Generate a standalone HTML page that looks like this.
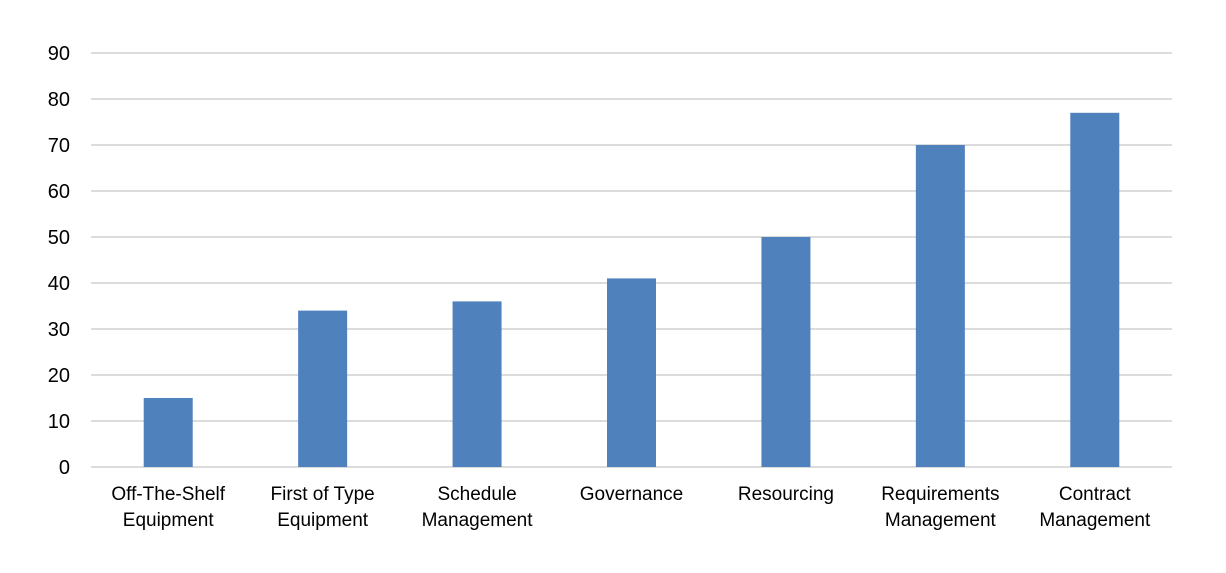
<!DOCTYPE html>
<html><head><meta charset="utf-8"><style>
html,body{margin:0;padding:0;background:#fff;}
svg{display:block;font-family:"Liberation Sans",Arial,sans-serif;}
</style></head><body>
<svg id="chart" width="1226" height="573" viewBox="0 0 1226 573">
<g id="grid"></g>
<g id="yticks"></g>
<g id="bars"></g>
<g id="xlabels"></g>
</svg>
<script>
const categories = [["Off-The-Shelf","Equipment"],["First of Type","Equipment"],["Schedule","Management"],["Governance"],["Resourcing"],["Requirements","Management"],["Contract","Management"]];
const values = [15,34,36,41,50,70,77];
const yTicks = [0,10,20,30,40,50,60,70,80,90];
const NS="http://www.w3.org/2000/svg";
const left=91,right=1172,y0=467,yTop=53,yMax=90;
const y=v=>y0-(y0-yTop)*v/yMax;
const band=(right-left)/categories.length;
const xc=i=>left+band*(i+0.5);
const bw=49;
function mk(t,a,p){const e=document.createElementNS(NS,t);for(const k in a)e.setAttribute(k,a[k]);p.appendChild(e);return e;}
const grid=document.getElementById('grid'),yt=document.getElementById('yticks'),bars=document.getElementById('bars'),xl=document.getElementById('xlabels');
yTicks.forEach(v=>{
  const l=mk('line',{x1:left,x2:right,y1:y(v),y2:y(v),stroke:'#d0d0d0','stroke-width':1.5},grid);
  
  
  const t=mk('text',{x:70,y:y(v)+7,'text-anchor':'end','font-size':20,fill:'#000'},yt);
  t.textContent=v;
  
  
});
values.forEach((v,i)=>{
  const r=mk('rect',{x:xc(i)-bw/2,y:y(v),width:bw,height:y0-y(v),fill:'#4f81bd'},bars);
  
  
  categories[i].forEach((s,j)=>{
    const t=mk('text',{x:xc(i),y:500+j*26,'text-anchor':'middle','font-size':19,fill:'#000'},xl);
    t.textContent=s;
    
    
  });
});
</script>
</body></html>
